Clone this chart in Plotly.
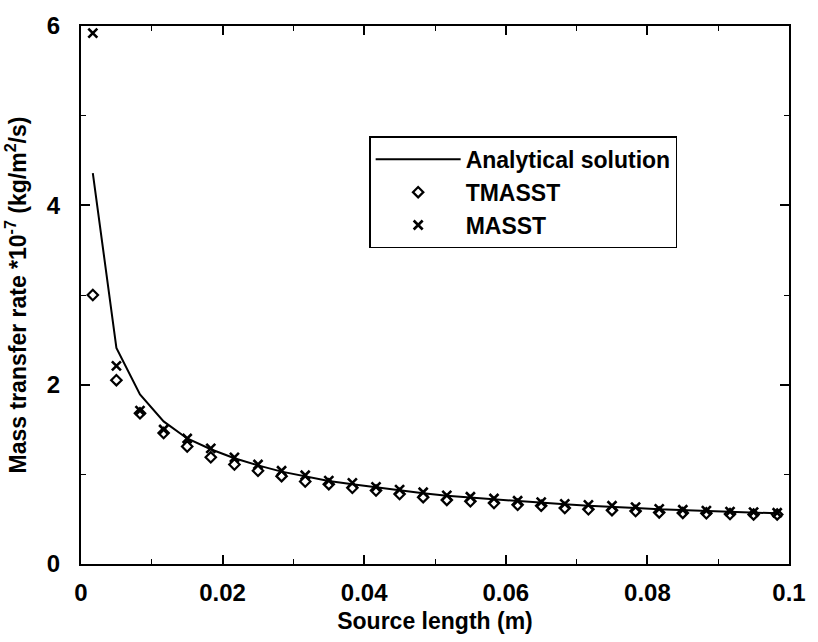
import plotly.graph_objects as go

# Source length (m)
source_length = [0.00167, 0.00500, 0.00833, 0.01167, 0.01500, 0.01833, 0.02167, 0.02500,
                 0.02833, 0.03167, 0.03500, 0.03833, 0.04167, 0.04500, 0.04833, 0.05167,
                 0.05500, 0.05833, 0.06167, 0.06500, 0.06833, 0.07167, 0.07500, 0.07833,
                 0.08167, 0.08500, 0.08833, 0.09167, 0.09500, 0.09833]

analytical = [4.36, 2.41, 1.89, 1.59, 1.40, 1.28, 1.18, 1.10, 1.03, 0.975,
              0.925, 0.89, 0.855, 0.82, 0.79, 0.76, 0.74, 0.72, 0.70, 0.685,
              0.665, 0.65, 0.64, 0.625, 0.61, 0.60, 0.59, 0.58, 0.57, 0.565]

tmasst = [3.00, 2.05, 1.68, 1.46, 1.31, 1.19, 1.11, 1.04, 0.98, 0.92,
          0.89, 0.85, 0.82, 0.78, 0.745, 0.715, 0.70, 0.68, 0.66, 0.65,
          0.625, 0.61, 0.60, 0.59, 0.575, 0.57, 0.565, 0.557, 0.553, 0.553]

masst = [5.92, 2.21, 1.71, 1.50, 1.40, 1.29, 1.19, 1.11, 1.04, 0.99,
         0.93, 0.905, 0.86, 0.83, 0.80, 0.765, 0.75, 0.73, 0.705, 0.69,
         0.67, 0.66, 0.65, 0.635, 0.615, 0.605, 0.595, 0.585, 0.578, 0.572]

x_ticks = [0, 0.02, 0.04, 0.06, 0.08, 0.1]
x_tick_labels = ["0", "0.02", "0.04", "0.06", "0.08", "0.1"]
y_ticks = [0, 2, 4, 6]
y_tick_labels = ["0", "2", "4", "6"]

FONT = "Liberation Sans, Arial, Helvetica, sans-serif"

fig = go.Figure()
fig.add_trace(go.Scatter(x=source_length, y=analytical, mode="lines",
                         name="Analytical solution",
                         line=dict(color="black", width=2)))
fig.add_trace(go.Scatter(x=source_length, y=tmasst, mode="markers", name="TMASST",
                         marker=dict(symbol="diamond-open", size=8, color="black",
                                     line=dict(color="black", width=2.2))))
fig.add_trace(go.Scatter(x=source_length, y=masst, mode="markers", name="MASST",
                         marker=dict(symbol="x-thin", size=9, color="black",
                                     line=dict(color="black", width=2.6))))

axis_common = dict(showline=True, linecolor="black", linewidth=2, mirror="allticks",
                   ticks="inside", tickcolor="black", tickwidth=1.5, ticklen=9,
                   showgrid=False, zeroline=False,
                   tickfont=dict(family=FONT, size=24, color="black", weight="bold"))

fig.update_xaxes(range=[0, 0.1], tickvals=x_ticks, ticktext=x_tick_labels,
                 minor=dict(ticks="inside", ticklen=5, tickwidth=1.2, tickcolor="black",
                            dtick=0.01),
                 ticklabelstandoff=6,
                 title=dict(text="Source length (m)", standoff=8,
                            font=dict(family=FONT, size=23, color="black", weight="bold")),
                 **axis_common)
fig.update_yaxes(range=[0, 6], tickvals=y_ticks, ticktext=y_tick_labels,
                 minor=dict(ticks="inside", ticklen=5, tickwidth=1.2, tickcolor="black",
                            dtick=1),
                 ticklabelstandoff=14,
                 title=dict(text="Mass transfer rate *10<sup>-7</sup> (kg/m<sup>2</sup>/s)",
                            standoff=14,
                            font=dict(family=FONT, size=23, color="black", weight="bold")),
                 **axis_common)

fig.update_layout(
    width=818, height=642,
    margin=dict(l=81, r=18, t=17, b=68),
    paper_bgcolor="white", plot_bgcolor="white",
    showlegend=True,
    legend=dict(x=0.407, y=0.795, xanchor="left", yanchor="top",
                bordercolor="black", borderwidth=1.5, bgcolor="white",
                font=dict(family=FONT, size=23, color="black", weight="bold"),
                tracegroupgap=0, itemwidth=85),
)

fig.write_html("out.html")
